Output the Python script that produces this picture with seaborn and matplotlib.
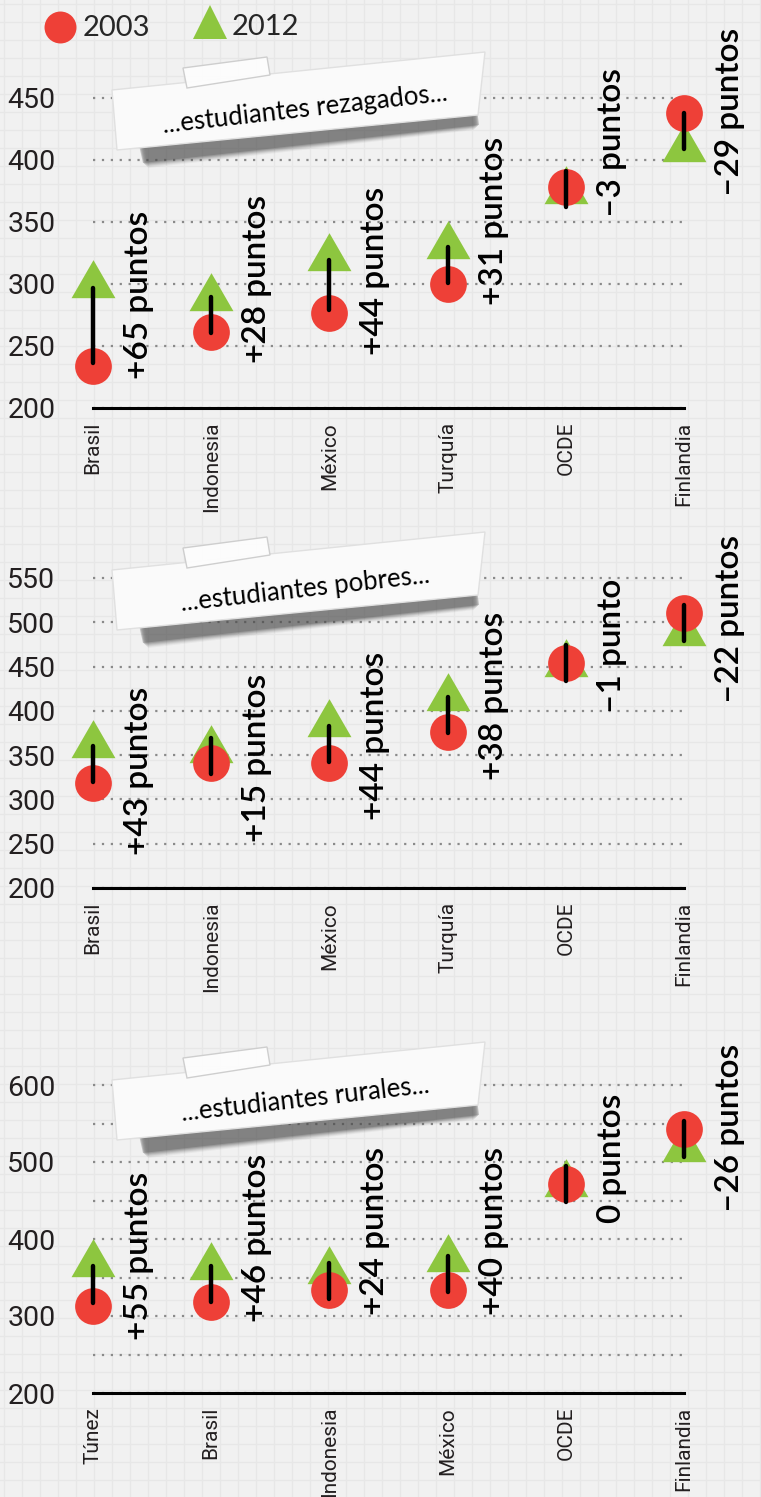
import numpy as np
import pandas as pd
import matplotlib
matplotlib.use('Agg')
import matplotlib.pyplot as plt
import seaborn as sns
from matplotlib.patches import Polygon
from matplotlib.lines import Line2D
from matplotlib.ticker import MultipleLocator

# datos (puntajes PISA 2003 vs 2012)
paises_1 = ['Brasil', 'Indonesia', 'México', 'Turquía', 'OCDE', 'Finlandia']
rez_2003 = [234, 261, 277, 300, 378, 438]
rez_2012 = [299, 289, 321, 331, 375, 409]
rez_txt = ['+65 puntos', '+28 puntos', '+44 puntos', '+31 puntos', '–3 puntos', '–29 puntos']

paises_2 = ['Brasil', 'Indonesia', 'México', 'Turquía', 'OCDE', 'Finlandia']
pob_2003 = [318, 341, 341, 376, 454, 510]
pob_2012 = [361, 356, 385, 414, 453, 488]
pob_txt = ['+43 puntos', '+15 puntos', '+44 puntos', '+38 puntos', '–1 punto', '–22 puntos']

paises_3 = ['Túnez', 'Brasil', 'Indonesia', 'México', 'OCDE', 'Finlandia']
rur_2003 = [313, 318, 334, 334, 471, 543]
rur_2012 = [368, 364, 358, 374, 471, 517]
rur_txt = ['+55 puntos', '+46 puntos', '+24 puntos', '+40 puntos', '0 puntos', '–26 puntos']

titulos = ['...estudiantes rezagados...', '...estudiantes pobres...', '...estudiantes rurales...']

# layout (pixeles)
W, H = 761, 1497
ROJO = '#ee4037'
VERDE = '#8dc63f'
MANO = ['Lato', 'DejaVu Sans']
ESTRECHA = ['Roboto', 'DejaVu Sans']

# y (datos) donde empieza cada texto "puntos"
pos_txt = [
    [223, 236, 243, 283, 354, 371],
    [237, 252, 277, 322, 397, 409],
    [269, 292, 301, 301, 421, 435],
]
# base (px), px por unidad, ylim superior, ticks
paneles = [
    dict(base=408, k=1.24, top=470, major=50, minor=None),
    dict(base=888, k=0.886, top=570, major=50, minor=None),
    dict(base=1393, k=0.77, top=640, major=100, minor=50),
]
dy_nota = [0, 480, 990]

sns.set_theme(style='white')

fig = plt.figure(figsize=(W / 100, H / 100), dpi=100)

# fondo papel cuadriculado
bg = fig.add_axes([0, 0, 1, 1], zorder=-5)
bg.set_xlim(0, W)
bg.set_ylim(H, 0)
bg.set_facecolor('#f1f1f1')
for x in np.arange(4, W, 18):
    bg.axvline(x, color='#e7e7e7', lw=1)
for y in np.arange(4, H, 18):
    bg.axhline(y, color='#e7e7e7', lw=1)
bg.axis('off')
bg.add_patch(plt.Rectangle((0, 0), W, H, color='#f1f1f1', zorder=-1))

tri = [(0, 0.577), (-0.5, -0.289), (0.5, -0.289)]

datos = [(paises_1, rez_2003, rez_2012, rez_txt),
         (paises_2, pob_2003, pob_2012, pob_txt),
         (paises_3, rur_2003, rur_2012, rur_txt)]

for n, (paises, v03, v12, txts) in enumerate(datos):
    p = paneles[n]
    top_px = p['base'] - (p['top'] - 200) * p['k']
    ax = fig.add_axes([93 / W, 1 - p['base'] / H, 591 / W, (p['base'] - top_px) / H])
    ax.set_facecolor('none')
    df = pd.DataFrame({'pais': paises, 'x': range(len(paises)), 'a2003': v03, 'a2012': v12})

    sns.scatterplot(data=df, x='x', y='a2012', marker=tri, s=1330, color=VERDE,
                    linewidth=0, ax=ax, zorder=3, clip_on=False)
    sns.scatterplot(data=df, x='x', y='a2003', marker='o', s=700, color=ROJO,
                    linewidth=0, ax=ax, zorder=4, clip_on=False)

    ax.set_xlim(0, len(paises) - 1)
    ax.set_ylim(200, p['top'])

    # trazo negro entre 2003 y 2012
    for i in range(len(paises)):
        mid = (v03[i] + v12[i]) / 2
        largo = max(abs(v12[i] - v03[i]) * p['k'] - 5, 36) / p['k']
        ax.plot([i, i], [mid - largo / 2, mid + largo / 2], color='black', lw=3.2,
                solid_capstyle='round', zorder=5, clip_on=False)
        ax.text(i + 0.39, pos_txt[n][i], txts[i], rotation=90, rotation_mode='anchor',
                ha='left', va='center', fontsize=24, family=MANO, weight='semibold',
                color='black', zorder=6, clip_on=False)

    ax.set_xticks(range(len(paises)))
    ax.set_xticklabels(paises, rotation=90, family=ESTRECHA, fontsize=15, color='#231f20')
    ax.yaxis.set_major_locator(MultipleLocator(p['major']))
    if p['minor']:
        ax.yaxis.set_minor_locator(MultipleLocator(p['minor']))
    for lab in ax.get_yticklabels():
        lab.set_family(ESTRECHA)
        lab.set_fontsize(20.5)
        lab.set_color('#231f20')
    ax.tick_params(axis='y', which='both', length=0, pad=27)
    ax.tick_params(axis='x', length=0, pad=10)
    ax.yaxis.grid(True, which='both', linestyle=(0, (1, 3)), color='#8a8a8a', lw=1.6)
    ax.xaxis.grid(False)
    ax.set_xlabel('')
    ax.set_ylabel('')
    for s in ['top', 'left', 'right']:
        ax.spines[s].set_visible(False)
    ax.spines['bottom'].set_color('black')
    ax.spines['bottom'].set_linewidth(2.2)
    ax.spines['bottom'].set_zorder(2)


def F(pts, dy):
    return [(x / W, 1 - (y + dy) / H) for x, y in pts]


def nota(dy, texto):
    # sombra difuminada bajo el borde inferior
    for i, a in enumerate([0.06, 0.09, 0.12, 0.16, 0.22, 0.3]):
        e = 6 - i
        pts = [(138 + e, 146 - e), (478 - e, 110 - e), (480 - e, 124 + e), (142 + e, 162 + e)]
        fig.add_artist(Polygon(F(pts, dy), closed=True, transform=fig.transFigure,
                               facecolor='#4a4a4a', edgecolor='none', alpha=a, zorder=5))
    papel = [(112, 90), (485, 52), (478, 115), (117, 150)]
    fig.add_artist(Polygon(F(papel, dy), closed=True, transform=fig.transFigure,
                           facecolor='#fafafa', edgecolor='#e0e0e0', lw=1, zorder=6))
    cinta = [(183, 68), (267, 57), (270, 75), (187, 88)]
    fig.add_artist(Polygon(F(cinta, dy), closed=True, transform=fig.transFigure,
                           facecolor='#fdfdfd', edgecolor='#cccccc', lw=1, alpha=0.95, zorder=7))
    x, y = F([(305, 109)], dy)[0]
    fig.text(x, y, texto, rotation=6.5, ha='center', va='center', fontsize=18.5,
             family=MANO, color='black', zorder=8, rotation_mode='anchor')


for n, t in enumerate(titulos):
    nota(dy_nota[n], t)

# leyenda
fig.add_artist(Line2D([60 / W], [1 - 27 / H], marker='o', ms=23, color=ROJO,
                      markeredgewidth=0, transform=fig.transFigure))
fig.text(83 / W, 1 - 28 / H, '2003', fontsize=21, family=MANO, va='center', ha='left')
fig.add_artist(Line2D([210 / W], [1 - 22 / H], marker='^', ms=24, color=VERDE,
                      markeredgewidth=0, transform=fig.transFigure))
fig.text(232 / W, 1 - 27 / H, '2012', fontsize=21, family=MANO, va='center', ha='left')

fig.savefig('out.png', dpi=100)
